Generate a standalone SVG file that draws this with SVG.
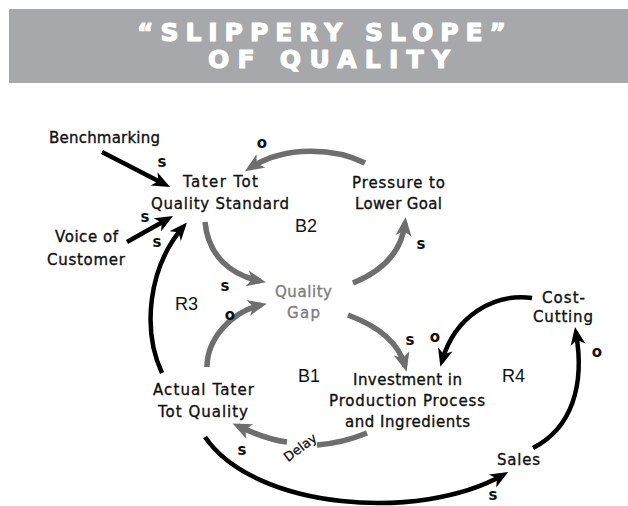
<svg xmlns="http://www.w3.org/2000/svg" width="628" height="506" viewBox="0 0 628 506">
  <style>
    .lbl { font-family: "DejaVu Sans", "Liberation Sans", sans-serif; font-size: 15px; fill: #111; text-anchor: middle; stroke: #111; stroke-width: 0.35px; }
    .gap { fill: #7d7d7d; stroke: #7d7d7d; }
    .pol { font-family: "DejaVu Sans", "Liberation Sans", sans-serif; font-size: 15px; font-weight: bold; fill: #111; text-anchor: middle; }
    .delay { font-family: "DejaVu Sans", "Liberation Sans", sans-serif; font-size: 13px; fill: #111; stroke: #111; stroke-width: 0.3px; text-anchor: middle; }
    .loop { font-family: "Liberation Sans", Arial, sans-serif; font-size: 18px; fill: #111; }
    .title { font-family: "DejaVu Sans", "Liberation Sans", sans-serif; font-size: 25px; font-weight: bold; fill: #fff; stroke: #fff; stroke-width: 1.2px; stroke-linejoin: round; }
    .lnk { fill: none; stroke-linecap: butt; }
    .blk { stroke: #000; stroke-width: 4.5; marker-end: url(#ahBlack); }
    .gry { stroke: #6e6e6e; stroke-width: 5.5; }
    .gry.end { marker-end: url(#ahGray); }
  </style>
  <defs>
    <marker id="ahBlack" markerUnits="userSpaceOnUse" orient="auto" viewBox="-15 -15 30 30" markerWidth="30" markerHeight="30" refX="0" refY="0" overflow="visible">
      <path d="M6,0 L-12,-7.5 L-7,0 L-12,7.5 Z" fill="#000"/>
    </marker>
    <marker id="ahGray" markerUnits="userSpaceOnUse" orient="auto" viewBox="-15 -15 30 30" markerWidth="30" markerHeight="30" refX="0" refY="0" overflow="visible">
      <path d="M6,0 L-13,-8 L-8,0 L-13,8 Z" fill="#6e6e6e"/>
    </marker>
  </defs>

  <rect width="628" height="506" fill="#fff"/>

  <!-- title banner -->
  <g id="title">
    <rect x="9" y="9" width="619" height="74" fill="#a7a8ab"/>
    <text class="title" x="137" y="41" textLength="369" lengthAdjust="spacing">“SLIPPERY SLOPE”</text>
    <text class="title" x="208" y="68" textLength="242" lengthAdjust="spacing">OF QUALITY</text>
  </g>

  <!-- connectors -->
  <g id="connectors">
    <path class="lnk blk" d="M102,152 L164.7,184.3"/>
    <path class="lnk blk" d="M127,242 L167.8,219"/>
    <path class="lnk blk" d="M162,373 C142,330 148,268 183,227"/>
    <path class="lnk gry end" d="M365,163 C335,148 285,145 250,168"/>
    <path class="lnk gry end" d="M205,222 C208,255 230,275 260,281"/>
    <path class="lnk gry end" d="M207,367 C207,340 230,312 261,305"/>
    <path class="lnk gry end" d="M353,283 C385,270 402,250 405,223"/>
    <path class="lnk gry end" d="M348,315 C375,325 398,340 405,366"/>
    <path class="lnk blk" d="M532,298 C495,293 455,315 442,361"/>
    <path class="lnk blk" d="M533,448 C572,428 585,385 576,333"/>
    <path class="lnk gry" d="M367,433 C350,440 330,444 317,445"/>
    <path class="lnk gry end" d="M287,442 C270,440 255,434 238,426"/>
    <path class="lnk blk" d="M205,437 C255,510 420,522 503,475"/>
    <text class="delay" transform="translate(303,451) rotate(-37)">Delay</text>
  </g>

  <!-- link polarities -->
  <g id="polarities">
    <text class="pol" x="162" y="167">s</text>
    <text class="pol" x="262" y="148">o</text>
    <text class="pol" x="145" y="222">s</text>
    <text class="pol" x="157" y="247">s</text>
    <text class="pol" x="225" y="291">s</text>
    <text class="pol" x="230" y="320">o</text>
    <text class="pol" x="421" y="249">s</text>
    <text class="pol" x="410" y="345">s</text>
    <text class="pol" x="435" y="342">o</text>
    <text class="pol" x="597" y="357">o</text>
    <text class="pol" x="242" y="455">s</text>
    <text class="pol" x="493" y="500">s</text>
  </g>

  <!-- loop identifiers -->
  <g id="loops">
    <text class="loop" x="295" y="232">B2</text>
    <text class="loop" x="175" y="310">R3</text>
    <text class="loop" x="298" y="382">B1</text>
    <text class="loop" x="502" y="382">R4</text>
  </g>

  <!-- variables -->
  <g id="benchmarking">
    <text class="lbl" x="104.5" y="143" textLength="111" lengthAdjust="spacing">Benchmarking</text>
  </g>
  <g id="quality-standard">
    <text class="lbl" x="220.5" y="187" textLength="75" lengthAdjust="spacing">Tater Tot</text>
    <text class="lbl" x="220" y="209" textLength="138" lengthAdjust="spacing">Quality Standard</text>
  </g>
  <g id="voice-of-customer">
    <text class="lbl" x="86.5" y="242" textLength="63" lengthAdjust="spacing">Voice of</text>
    <text class="lbl" x="86" y="265" textLength="78" lengthAdjust="spacing">Customer</text>
  </g>
  <g id="pressure">
    <text class="lbl" x="398.5" y="188" textLength="93" lengthAdjust="spacing">Pressure to</text>
    <text class="lbl" x="398.5" y="209" textLength="87" lengthAdjust="spacing">Lower Goal</text>
  </g>
  <g id="quality-gap">
    <text class="lbl gap" x="303.5" y="297" textLength="57" lengthAdjust="spacing">Quality</text>
    <text class="lbl gap" x="303.5" y="318" textLength="33" lengthAdjust="spacing">Gap</text>
  </g>
  <g id="cost-cutting">
    <text class="lbl" x="563.5" y="303" textLength="43" lengthAdjust="spacing">Cost-</text>
    <text class="lbl" x="563" y="322" textLength="60" lengthAdjust="spacing">Cutting</text>
  </g>
  <g id="investment">
    <text class="lbl" x="407.5" y="385" textLength="109" lengthAdjust="spacing">Investment in</text>
    <text class="lbl" x="407" y="406" textLength="156" lengthAdjust="spacing">Production Process</text>
    <text class="lbl" x="407.5" y="427" textLength="125" lengthAdjust="spacing">and Ingredients</text>
  </g>
  <g id="actual-quality">
    <text class="lbl" x="203.5" y="395" textLength="101" lengthAdjust="spacing">Actual Tater</text>
    <text class="lbl" x="203" y="417" textLength="90" lengthAdjust="spacing">Tot Quality</text>
  </g>
  <g id="sales">
    <text class="lbl" x="518.5" y="465" textLength="43" lengthAdjust="spacing">Sales</text>
  </g>
</svg>
